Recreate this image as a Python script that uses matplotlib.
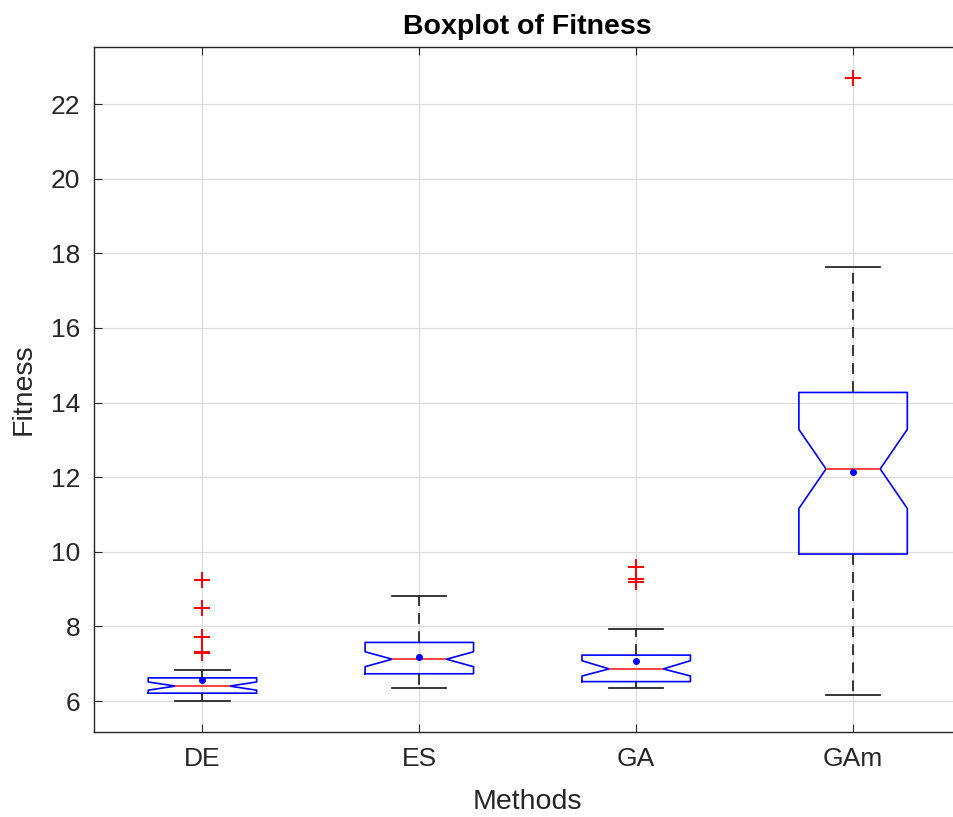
import matplotlib
matplotlib.use("Agg")
import matplotlib.pyplot as plt

plt.rcParams['font.family'] = ['Liberation Sans', 'DejaVu Sans']

methods = ["DE", "ES", "GA", "GAm"]
q1 = [6.21, 6.73, 6.52, 9.94]
med = [6.40, 7.12, 6.86, 12.22]
q3 = [6.62, 7.57, 7.23, 14.27]
whislo = [6.00, 6.36, 6.36, 6.16]
whishi = [6.82, 8.81, 7.93, 17.64]
means = [6.56, 7.19, 7.07, 12.13]
ci_lo = [6.29, 6.92, 6.67, 11.16]
ci_hi = [6.51, 7.32, 7.08, 13.28]
outliers = [[9.23, 8.50, 7.72, 7.31, 7.28], [], [9.58, 9.27, 9.19], [22.70]]

stats = []
for i, m in enumerate(methods):
    stats.append(dict(label=m, q1=q1[i], med=med[i], q3=q3[i],
                      whislo=whislo[i], whishi=whishi[i], mean=means[i],
                      cilo=ci_lo[i], cihi=ci_hi[i], fliers=outliers[i]))

fig = plt.figure(figsize=(9.54, 8.17), dpi=100)
ax = fig.add_axes([0.0985, 0.1044, 0.9094, 0.8381])

ax.bxp(stats, positions=[1, 2, 3, 4], widths=0.5, shownotches=True,
       showmeans=True,
       boxprops=dict(color='#0000ff', linewidth=1.2),
       medianprops=dict(color='#ff4040', linewidth=1.4),
       whiskerprops=dict(color='#262626', linestyle=(0, (6, 4)), linewidth=1.3),
       capprops=dict(color='#262626', linewidth=1.3),
       flierprops=dict(marker='+', markeredgecolor='#ff0000', markersize=12,
                       markeredgewidth=1.4, linestyle='none'),
       meanprops=dict(marker='o', markerfacecolor='#0000ff',
                      markeredgecolor='#0000ff', markersize=4))

ax.set_xlim(0.5, 4.5)
ax.set_ylim(5.177, 23.53)
ax.set_yticks([6, 8, 10, 12, 14, 16, 18, 20, 22])
ax.set_xticks([1, 2, 3, 4])
ax.set_xticklabels(methods)
ax.grid(True, color='#dcdcdc', linewidth=0.9)
ax.set_axisbelow(True)
ax.tick_params(direction='in', top=True, right=True, labelsize=19,
               colors='#262626', length=6)
ax.tick_params(axis='x', pad=11)
ax.tick_params(axis='y', pad=10)
for s in ax.spines.values():
    s.set_color('#262626')
    s.set_linewidth(1.0)
ax.set_xlabel("Methods", fontsize=20.5, color='#262626', labelpad=13)
ax.set_ylabel("Fitness", fontsize=20.5, color='#262626', labelpad=10)
ax.set_title("Boxplot of Fitness", fontsize=20.5, fontweight='bold', pad=9)

fig.savefig("out.png", dpi=100)
